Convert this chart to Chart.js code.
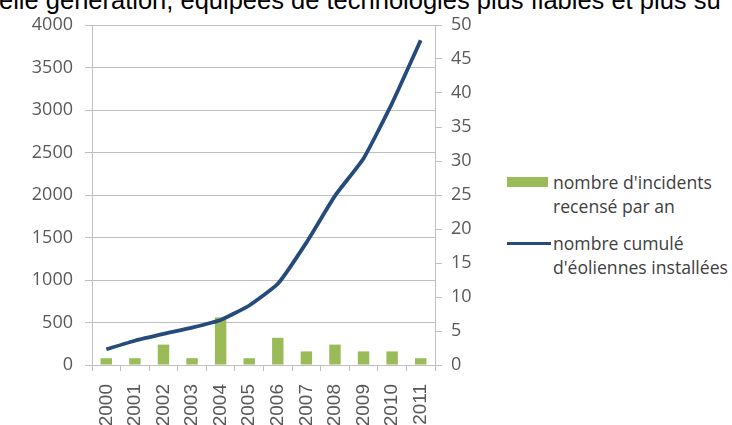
<!DOCTYPE html>
<html lang="fr">
<head>
<meta charset="utf-8">
<script src="https://cdn.jsdelivr.net/npm/chart.js@4"></script>
<style>
  html, body { margin: 0; padding: 0; background: #fff; }
  body { width: 732px; height: 425px; position: relative; overflow: hidden; }
  #headline {
    position: absolute; left: -1px; top: -14px; white-space: nowrap;
    font: 25.5px "Liberation Sans", Arial, sans-serif; color: #000;
  }
  #wrap { position: absolute; left: 0; top: 0; width: 490px; height: 425px; }
  .legend { position: absolute; left: 507px; font: 17.6px "Open Sans", sans-serif; color: #404040; line-height: 24px; }
  .legend .swatch { position: absolute; left: 0; }
  .legend .txt { position: absolute; left: 46px; white-space: nowrap; }
</style>
</head>
<body>
<div id="headline">elle génération, équipées de technologies plus fiables et plus sû</div>
<div id="wrap"><canvas id="chart" width="490" height="425"></canvas></div>

<div class="legend" style="top:170px">
  <div class="swatch" style="top:7px;width:41px;height:10px;background:#9bbb59"></div>
  <div class="txt" style="top:0">nombre d'incidents<br>recensé par an</div>
</div>
<div class="legend" style="top:231px">
  <div class="swatch" style="top:11px;width:44px;height:3px;background:#254a7c"></div>
  <div class="txt" style="top:0">nombre cumulé<br>d'éoliennes installées</div>
</div>

<script>
// years on the x axis
const years = ['2000', '2001', '2002', '2003', '2004', '2005', '2006', '2007', '2008', '2009', '2010', '2011'];
// incidents recorded each year (right axis)
const incidents = [1, 1, 3, 1, 7, 1, 4, 2, 3, 2, 2, 1];
// cumulative number of installed turbines (left axis)
const turbines = [185, 285, 365, 440, 530, 700, 955, 1440, 1990, 2430, 3080, 3820];

const tickColor = '#595959';
const gridColor = '#bfbfbf';
const tickFont = { family: 'Open Sans', size: 18 };

new Chart(document.getElementById('chart'), {
    type: 'bar',
    data: {
        labels: years,
        datasets: [
            {
                type: 'line',
                label: "nombre cumulé d'éoliennes installées",
                data: turbines,
                yAxisID: 'yLeft',
                borderColor: '#254a7c',
                borderWidth: 3.8,
                pointRadius: 0,
                tension: 0.15,
                order: 0
            },
            {
                label: "nombre d'incidents recensé par an",
                data: incidents,
                yAxisID: 'yRight',
                backgroundColor: '#9bbb59',
                barPercentage: 0.4,
                categoryPercentage: 1,
                order: 1
            }
        ]
    },
    options: {
        responsive: false,
        animation: false,
        layout: { padding: { top: 25, left: 0, right: 0, bottom: 0 } },
        plugins: { legend: { display: false }, tooltip: { enabled: false } },
        scales: {
            x: {
                offset: true,
                grid: { offset: true, drawOnChartArea: false, color: gridColor, tickLength: 6 },
                border: { color: gridColor },
                ticks: {
                    color: tickColor, minRotation: 90, maxRotation: 90, padding: 13,
                    font: { family: 'Liberation Sans', size: 19 }
                },
                afterFit: (s) => { s.height = 60; }
            },
            yLeft: {
                position: 'left',
                min: 0, max: 4000,
                ticks: {
                    stepSize: 500, color: tickColor, padding: 12, font: tickFont,
                    callback: (v) => String(v)
                },
                grid: { color: gridColor, tickLength: 7 },
                border: { color: gridColor },
                afterFit: (s) => { s.width = 92; }
            },
            yRight: {
                position: 'right',
                min: 0, max: 50,
                ticks: { stepSize: 5, color: tickColor, padding: 9, font: tickFont },
                grid: { drawOnChartArea: false, color: gridColor, tickLength: 7 },
                border: { color: gridColor },
                afterFit: (s) => { s.width = 55; }
            }
        }
    }
});
</script>
</body>
</html>
